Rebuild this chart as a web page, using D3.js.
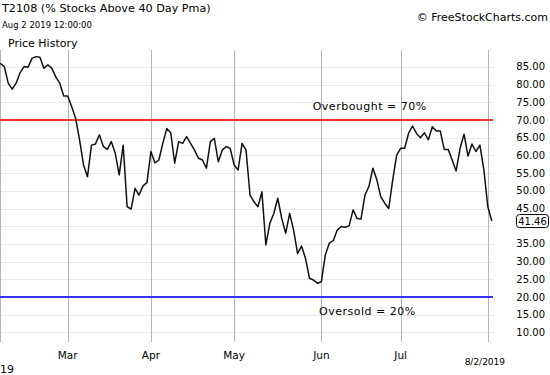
<!DOCTYPE html>
<html>
<head>
<meta charset="utf-8">
<script src="https://cdn.jsdelivr.net/npm/d3@7"></script>
<style>
  body { margin: 0; background: #fff; }
  svg { display: block; font-family: "DejaVu Sans", Verdana, sans-serif; }
</style>
</head>
<body>
<svg id="chart" width="550" height="375"></svg>
<script>
// trading days from Feb 5 to Aug 2 2019 (weekends + market holidays skipped)
const firstDay = new Date(2019, 1, 5);
const lastDay = new Date(2019, 7, 2);
const holidays = ["2019-02-18", "2019-04-19", "2019-05-27", "2019-07-04"];

const t2108 = [
  86.0, 85.1, 80.4, 78.7, 80.4, 83.4, 85.1, 84.9, 87.4, 87.9,
  87.7, 84.6, 85.6, 84.6, 82.2, 80.4, 76.8, 76.8, 73.8, 70.5,
  64.4, 57.3, 54.0, 62.9, 63.2, 65.8, 62.5, 61.7, 63.9, 60.6,
  54.5, 62.9, 45.5, 44.8, 50.7, 48.8, 51.4, 52.3, 61.1, 57.9,
  58.7, 63.4, 67.6, 66.4, 57.8, 63.9, 63.4, 65.3, 63.4, 61.5,
  59.2, 58.7, 56.4, 63.9, 64.8, 58.2, 61.5, 62.5, 62.0, 57.3,
  55.9, 63.4, 61.5, 48.8, 46.9, 45.5, 49.7, 34.7, 40.8, 43.6,
  47.9, 42.2, 38.0, 43.6, 38.9, 32.3, 34.4, 30.9, 25.3, 24.8,
  23.9, 24.3, 31.9, 35.2, 35.9, 38.9, 39.9, 39.7, 40.1, 44.6,
  42.2, 42.0, 48.8, 51.2, 56.4, 53.1, 48.3, 46.5, 45.0, 53.1,
  60.1, 62.0, 62.0, 66.2, 68.3, 66.2, 65.0, 66.4, 64.4, 68.1,
  66.9, 66.9, 61.7, 61.7, 58.7, 55.6, 62.0, 66.0, 59.8, 63.2,
  61.1, 62.9, 55.9, 45.5, 41.46
];

const monthTicks = ["2019-03-01", "2019-04-01", "2019-05-01", "2019-06-03", "2019-07-01", "2019-08-01"];
const monthLabels = ["Mar", "Apr", "May", "Jun", "Jul", "8/2/2019"];
const yTicks = [85, 80, 75, 70, 65, 60, 55, 50, 45, 35, 30, 25, 20, 15, 10];
const overbought = 70;
const oversold = 20;

const fmt = d3.timeFormat("%Y-%m-%d");
const days = d3.timeDay.range(firstDay, d3.timeDay.offset(lastDay, 1))
  .filter(d => d.getDay() !== 0 && d.getDay() !== 6 && !holidays.includes(fmt(d)))
  .map(fmt);
const data = days.map((d, i) => ({ date: d, value: t2108[i] }));

const svg = d3.select("#chart");
const width = 493;
const plotTop = 50, plotBottom = 342;

const x = d3.scalePoint().domain(days).range([0.3, 491.8]);
const y = d3.scaleLinear().domain([70, 20]).range([120, 297]);

// horizontal grid
svg.append("g")
  .selectAll("line")
  .data(d3.range(10, 90, 5))
  .join("line")
  .attr("x1", 0).attr("x2", width)
  .attr("y1", d => Math.round(y(d)) + 0.5).attr("y2", d => Math.round(y(d)) + 0.5)
  .attr("stroke", "#e9e9e9");

// month lines
svg.append("g")
  .selectAll("line")
  .data(monthTicks)
  .join("line")
  .attr("x1", d => Math.round(x(d)) + 0.5).attr("x2", d => Math.round(x(d)) + 0.5)
  .attr("y1", plotTop).attr("y2", plotBottom)
  .attr("stroke", "#b4b4b4");

svg.append("line")
  .attr("x1", 0.5).attr("x2", 0.5).attr("y1", plotTop).attr("y2", plotBottom)
  .attr("stroke", "#b4b4b4");

// overbought / oversold
svg.append("line")
  .attr("x1", 0).attr("x2", width)
  .attr("y1", y(overbought)).attr("y2", y(overbought))
  .attr("stroke", "#f03434").attr("stroke-width", 2);
svg.append("line")
  .attr("x1", 0).attr("x2", width)
  .attr("y1", y(oversold)).attr("y2", y(oversold))
  .attr("stroke", "#3434f0").attr("stroke-width", 2);

svg.append("text")
  .attr("x", width * 0.75).attr("y", y(overbought) - 10)
  .attr("text-anchor", "middle").attr("font-size", 11)
  .attr("letter-spacing", 0.5)
  .text(`Overbought = ${overbought}%`);
svg.append("text")
  .attr("x", width * 0.745).attr("y", y(oversold) + 18)
  .attr("text-anchor", "middle").attr("font-size", 11)
  .attr("letter-spacing", 0.5)
  .text(`Oversold = ${oversold}%`);

// price line
svg.append("path")
  .datum(data)
  .attr("fill", "none")
  .attr("stroke", "#111")
  .attr("stroke-width", 1.5)
  .attr("stroke-linejoin", "round")
  .attr("d", d3.line().x(d => x(d.date)).y(d => y(d.value)));

// right axis labels
svg.append("g")
  .selectAll("text")
  .data(yTicks)
  .join("text")
  .attr("x", 545).attr("y", d => y(d))
  .attr("dy", "0.35em")
  .attr("text-anchor", "end")
  .attr("font-size", 10)
  .text(d => d.toFixed(2));

const last = data[data.length - 1];
svg.append("rect")
  .attr("x", 516.5).attr("y", y(last.value) - 6.5)
  .attr("width", 32).attr("height", 13).attr("rx", 3)
  .attr("fill", "#fff").attr("stroke", "#000");
svg.append("text")
  .attr("x", 532.5).attr("y", y(last.value))
  .attr("dy", "0.35em").attr("text-anchor", "middle")
  .attr("font-size", 10)
  .text(last.value.toFixed(2));

// bottom labels
svg.append("g")
  .selectAll("text")
  .data(monthTicks)
  .join("text")
  .attr("x", (d, i) => x(d) - (i === monthTicks.length - 1 ? 3 : 0))
  .attr("y", (d, i) => i === monthTicks.length - 1 ? 365 : 359)
  .attr("text-anchor", "middle")
  .attr("font-size", (d, i) => i === monthTicks.length - 1 ? 9 : 10.5)
  .text((d, i) => monthLabels[i]);

// year label, only its tail shows at the left edge
svg.append("text")
  .attr("x", 0).attr("y", 373)
  .attr("font-size", 11).text("19");

// header
svg.append("text").attr("x", 2).attr("y", 12).attr("font-size", 11.2)
  .text("T2108 (% Stocks Above 40 Day Pma)");
svg.append("text").attr("x", 2).attr("y", 28).attr("font-size", 8.5)
  .text("Aug 2 2019 12:00:00");
svg.append("text").attr("x", 8).attr("y", 47).attr("font-size", 11)
  .text("Price History");
svg.append("text").attr("x", 548).attr("y", 21).attr("font-size", 11)
  .attr("text-anchor", "end")
  .text("© FreeStockCharts.com");
</script>
</body>
</html>
